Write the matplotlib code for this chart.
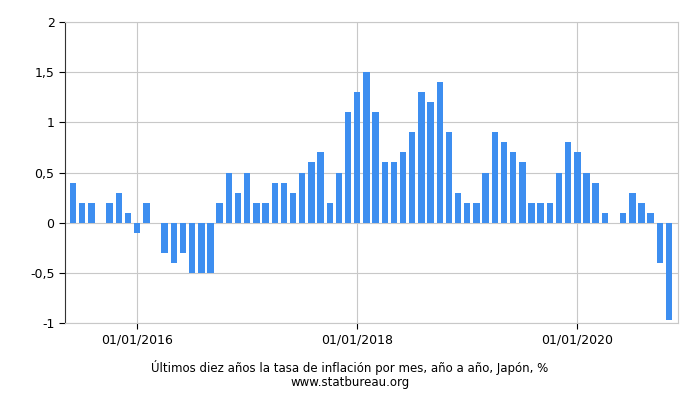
import matplotlib
matplotlib.use("Agg")
import matplotlib.pyplot as plt
from matplotlib.ticker import FuncFormatter

# monthly values, Jun 2015 .. Nov 2020
values = [0.4, 0.2, 0.2, 0.0, 0.2, 0.3, 0.1,
          -0.1, 0.2, 0.0, -0.3, -0.4, -0.3, -0.5, -0.5, -0.5, 0.2, 0.5, 0.3,
          0.5, 0.2, 0.2, 0.4, 0.4, 0.3, 0.5, 0.6, 0.7, 0.2, 0.5, 1.1,
          1.3, 1.5, 1.1, 0.6, 0.6, 0.7, 0.9, 1.3, 1.2, 1.4, 0.9, 0.3,
          0.2, 0.2, 0.5, 0.9, 0.8, 0.7, 0.6, 0.2, 0.2, 0.2, 0.5, 0.8,
          0.7, 0.5, 0.4, 0.1, 0.0, 0.1, 0.3, 0.2, 0.1, -0.4, -0.97]
tick_pos = [7, 31, 55]
tick_labels = ["01/01/2016", "01/01/2018", "01/01/2020"]

fig = plt.figure(figsize=(7, 4), dpi=100)
ax = fig.add_axes([65 / 700, 77 / 400, 613 / 700, 301 / 400])
ax.bar(range(len(values)), values, width=0.7, color="#3d8ef0", zorder=3)
ax.set_xlim(-0.87, 65.98)
ax.set_ylim(-1, 2)
ax.set_yticks([-1, -0.5, 0, 0.5, 1, 1.5, 2])
ax.yaxis.set_major_formatter(FuncFormatter(lambda v, p: f"{v:g}".replace(".", ",")))
ax.set_xticks(tick_pos)
ax.set_xticklabels(tick_labels)
ax.grid(True, color="#c8c8c8", lw=0.8, zorder=0)
ax.tick_params(labelsize=9, length=4)
for s in ["top", "right"]:
    ax.spines[s].set_visible(False)
ax.spines["left"].set_color("#333333")
ax.spines["bottom"].set_color("#c8c8c8")
ax.spines["right"].set_visible(True)
ax.spines["right"].set_color("#c8c8c8")
ax.spines["top"].set_visible(True)
ax.spines["top"].set_color("#c8c8c8")

fig.text(0.5, 28 / 400, "Últimos diez años la tasa de inflación por mes, año a año, Japón, %",
         ha="center", fontsize=8.5)
fig.text(0.5, 14 / 400, "www.statbureau.org", ha="center", fontsize=8.5)
fig.savefig("out.png")
